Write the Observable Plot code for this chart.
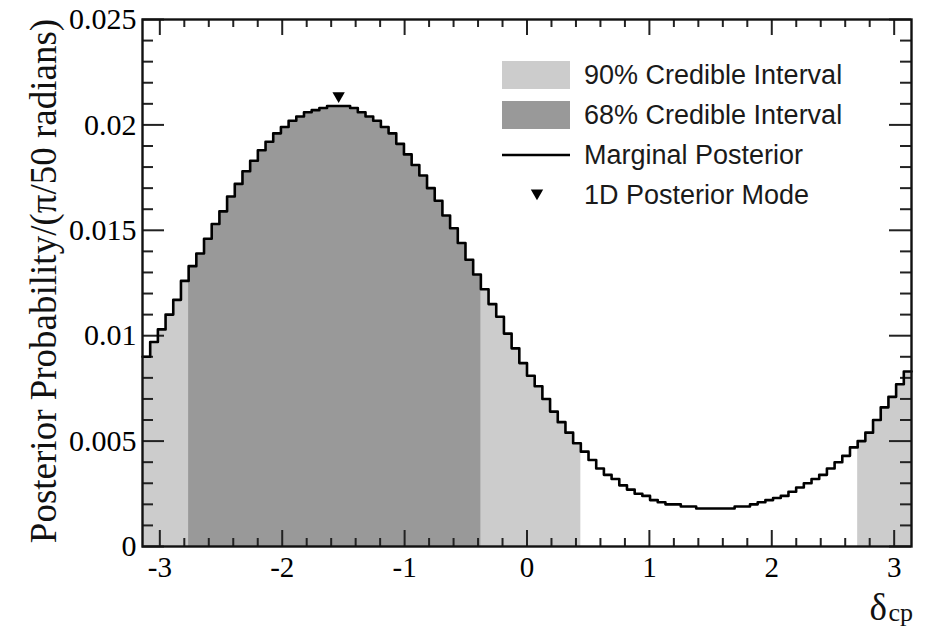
<!DOCTYPE html>
<html>
<head>
<meta charset="utf-8">
<script src="https://cdn.jsdelivr.net/npm/d3@7"></script>
<script src="https://cdn.jsdelivr.net/npm/@observablehq/plot@0.6"></script>
<style>
  html, body { margin: 0; padding: 0; background: #fff; }
  #chart svg { display: block; }
</style>
</head>
<body>
<div id="chart"></div>
<script>
// ---------------- data ----------------
const xDomain = [-Math.PI, Math.PI];
const yDomain = [0, 0.025];

// posterior probability per bin (100 bins of width pi/50, from -pi to pi)
const posterior = [
  0.0090, 0.0097, 0.0103, 0.0110, 0.0117, 0.0126, 0.0133, 0.0139, 0.0146, 0.0153,
  0.0159, 0.0166, 0.0172, 0.0178, 0.0183, 0.0188, 0.0192, 0.0196, 0.0199, 0.0202,
  0.0204, 0.0206, 0.0207, 0.0208, 0.0209, 0.0209, 0.0209, 0.0208, 0.0206, 0.0204,
  0.0202, 0.0199, 0.0196, 0.0191, 0.0186, 0.0181, 0.0176, 0.0170, 0.0164, 0.0157,
  0.0151, 0.0144, 0.0136, 0.0129, 0.0122, 0.0115, 0.0109, 0.0101, 0.0094, 0.0087,
  0.0081, 0.0076, 0.0070, 0.0064, 0.0059, 0.0054, 0.0049, 0.0045, 0.0041, 0.0037,
  0.0034, 0.0032, 0.0029, 0.0027, 0.0025, 0.0024, 0.0022, 0.0021, 0.0020, 0.0020,
  0.0019, 0.0019, 0.0018, 0.0018, 0.0018, 0.0018, 0.0018, 0.0019, 0.0019, 0.0020,
  0.0021, 0.0022, 0.0023, 0.0024, 0.0026, 0.0028, 0.0030, 0.0032, 0.0034, 0.0037,
  0.0040, 0.0043, 0.0047, 0.0050, 0.0054, 0.0060, 0.0066, 0.0071, 0.0077, 0.0083
];

// credible intervals (delta_cp ranges)
const ci90 = [[-Math.PI, 0.440], [2.702, Math.PI]];
const ci68 = [[-2.765, -0.377]];

// 1D posterior mode
const modeX = -1.539;

// tick values
const xMajor = [-3, -2, -1, 0, 1, 2, 3];
const yMajor = [0, 0.005, 0.01, 0.015, 0.02, 0.025];

// legend entries
const legendLabels = ["90% Credible Interval", "68% Credible Interval", "Marginal Posterior", "1D Posterior Mode"];

const yTitle = "Posterior Probability/(\u03c0/50 radians)";

// ---------------- derived ----------------
const binW = (xDomain[1] - xDomain[0]) / posterior.length;
const bins = posterior.map((v, i) => ({
  x0: xDomain[0] + i * binW,
  x1: xDomain[0] + (i + 1) * binW,
  v
}));
const stepPts = bins.flatMap(b => [{x: b.x0, y: b.v}, {x: b.x1, y: b.v}]);
function bandPts(intervals) {
  return intervals.flatMap(([a, b], id) =>
    bins.filter(d => (d.x0 + d.x1) / 2 >= a && (d.x0 + d.x1) / 2 <= b)
        .flatMap(d => [{x: d.x0, y: d.v, id}, {x: d.x1, y: d.v, id}]));
}
const band90 = bandPts(ci90);
const band68 = bandPts(ci68);
const modeBin = bins.find(b => modeX >= b.x0 && modeX < b.x1);

const xMinor = d3.range(-30, 31, 2).map(d => d / 10).filter(d => !xMajor.includes(d));
const yMinor = d3.range(0, 26).map(d => d / 1000).filter(d => !yMajor.some(m => Math.abs(m - d) < 1e-9));

const W = 927, H = 631;
const mL = 142, mR = 16, mT = 19, mB = 85;
const fw = W - mL - mR, fh = H - mT - mB;

const downTriangle = {
  draw(context, size) {
    const side = Math.sqrt(4 * size / Math.sqrt(3));
    const h = side * Math.sqrt(3) / 2;
    context.moveTo(-side / 2, -h / 3);
    context.lineTo(side / 2, -h / 3);
    context.lineTo(0, 2 * h / 3);
    context.closePath();
  }
};

const tickColor = "#222";

const chart = Plot.plot({
  width: W, height: H,
  marginLeft: mL, marginRight: mR, marginTop: mT, marginBottom: mB,
  x: {domain: xDomain},
  y: {domain: yDomain},
  style: {fontFamily: "'Liberation Serif', 'DejaVu Serif', serif", fontSize: "30px", background: "#fff", color: "#000"},
  marks: [
    Plot.areaY(band90, {x: "x", y1: 0, y2: "y", z: "id", fill: "#cccccc"}),
    Plot.areaY(band68, {x: "x", y1: 0, y2: "y", z: "id", fill: "#999999"}),
    // bottom / top ticks
    Plot.tickX(xMajor, {x: d => d, insetTop: fh - 16, stroke: tickColor, strokeWidth: 2}),
    Plot.tickX(xMinor, {x: d => d, insetTop: fh - 8, stroke: tickColor, strokeWidth: 2}),
    Plot.tickX(xMajor, {x: d => d, insetBottom: fh - 16, stroke: tickColor, strokeWidth: 2}),
    Plot.tickX(xMinor, {x: d => d, insetBottom: fh - 8, stroke: tickColor, strokeWidth: 2}),
    // left / right ticks
    Plot.tickY(yMajor, {y: d => d, insetRight: fw - 22, stroke: tickColor, strokeWidth: 2}),
    Plot.tickY(yMinor, {y: d => d, insetRight: fw - 11, stroke: tickColor, strokeWidth: 2}),
    Plot.tickY(yMajor, {y: d => d, insetLeft: fw - 22, stroke: tickColor, strokeWidth: 2}),
    Plot.tickY(yMinor, {y: d => d, insetLeft: fw - 11, stroke: tickColor, strokeWidth: 2}),
    // posterior step line
    Plot.line(stepPts, {x: "x", y: "y", stroke: "#000", strokeWidth: 2.6}),
    // mode marker
    Plot.dot([modeBin], {x: () => modeX, y: d => d.v, symbol: downTriangle, r: 4.6, fill: "#000", stroke: "none", dy: -10}),
    Plot.frame({stroke: "#111", strokeWidth: 2.4}),
    // axis labels
    Plot.axisX(xMajor, {tickSize: 0, tickPadding: 10, tickFormat: d => String(d), label: null, fontSize: 29}),
    Plot.axisY(yMajor, {tickSize: 0, tickPadding: 6, tickFormat: d => String(d), label: null, fontSize: 30}),
    // axis titles
    Plot.text([yTitle], {text: d => d, frameAnchor: "left", rotate: -90, textAnchor: "middle", lineAnchor: "bottom", dx: -87, dy: -2, fontSize: 37, fill: "#111"}),
    Plot.text(["\u03b4"], {text: d => d, frameAnchor: "bottom-right", textAnchor: "start", lineAnchor: "bottom", dx: -42, dy: 73, fontSize: 37, fill: "#111"}),
    Plot.text(["cp"], {text: d => d, frameAnchor: "bottom-right", textAnchor: "start", lineAnchor: "bottom", dx: -23, dy: 74, fontSize: 26, fill: "#111"})
  ]
});

document.getElementById("chart").appendChild(chart);

// ---------------- legend ----------------
const svg = d3.select(chart);
const lg = svg.append("g").attr("class", "legend")
  .attr("text-anchor", "start")
  .style("font-family", "'Liberation Sans', Arial, sans-serif")
  .style("font-size", "27px");
const rowY = [84, 124, 164, 204];
lg.append("rect").attr("x", 502).attr("y", 61).attr("width", 68).attr("height", 28).attr("fill", "#cccccc");
lg.append("rect").attr("x", 502).attr("y", 101).attr("width", 68).attr("height", 28).attr("fill", "#999999");
lg.append("line").attr("x1", 502).attr("x2", 570).attr("y1", 155).attr("y2", 155).attr("stroke", "#000").attr("stroke-width", 2.6);
lg.append("path").attr("d", d3.symbol(downTriangle, Math.PI * 4.6 * 4.6)()).attr("transform", "translate(537,193)").attr("fill", "#000");
legendLabels.forEach((t, i) => {
  lg.append("text").attr("x", 584).attr("y", rowY[i]).attr("text-anchor", "start").attr("fill", "#1a1a1a").text(t);
});
</script>
</body>
</html>
